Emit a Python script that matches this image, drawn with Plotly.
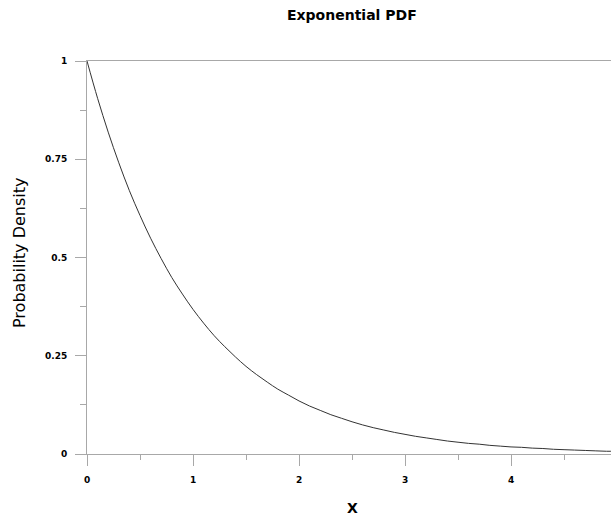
import plotly.graph_objects as go

# Curve values
x_vals = [0.0, 0.1, 0.2, 0.3, 0.4, 0.5, 0.6, 0.7, 0.8, 0.9, 1.0, 1.1, 1.2, 1.3, 1.4, 1.5, 1.6,
          1.7, 1.8, 1.9, 2.0, 2.1, 2.2, 2.3, 2.4, 2.5, 2.6, 2.7, 2.8, 2.9, 3.0, 3.1, 3.2, 3.3,
          3.4, 3.5, 3.6, 3.7, 3.8, 3.9, 4.0, 4.1, 4.2, 4.3, 4.4, 4.5, 4.6, 4.7, 4.8, 4.9, 5.0]
density = [1.000, 0.905, 0.819, 0.741, 0.670, 0.607, 0.549, 0.497, 0.449, 0.407, 0.368,
           0.333, 0.301, 0.273, 0.247, 0.223, 0.202, 0.183, 0.165, 0.150, 0.135, 0.122,
           0.111, 0.100, 0.091, 0.082, 0.074, 0.067, 0.061, 0.055, 0.050, 0.045, 0.041,
           0.037, 0.033, 0.030, 0.027, 0.025, 0.022, 0.020, 0.018, 0.017, 0.015, 0.014,
           0.012, 0.011, 0.010, 0.009, 0.008, 0.007, 0.007]

x_ticks = [0, 1, 2, 3, 4]
x_tick_text = ["0", "1", "2", "3", "4"]
y_ticks = [0, 0.25, 0.5, 0.75, 1]
y_tick_text = ["0", "0.25", "0.5", "0.75", "1"]

title_text = "Exponential PDF"
x_title = "X"
y_title = "Probability Density"

axis_color = "#a8a8a8"
FONT = "DejaVu Sans, sans-serif"
tick_font = dict(family=FONT, size=9, color="black", weight="bold")

W, H = 611, 517
L, R, T, B = 87, 0, 61, 63

fig = go.Figure()
fig.add_trace(go.Scatter(x=x_vals, y=density, mode="lines",
                         line=dict(color="#333333", width=1, shape="spline"),
                         showlegend=False, hoverinfo="skip"))

fig.update_layout(
    width=W, height=H,
    margin=dict(l=L, r=R, t=T, b=B, autoexpand=False),
    paper_bgcolor="white", plot_bgcolor="white",
    xaxis=dict(range=[0, 4.943], tickvals=x_ticks, ticktext=x_tick_text,
               showgrid=False, zeroline=False, showline=True, linecolor=axis_color,
               linewidth=1, mirror=True, ticks="outside", ticklen=11, tickcolor=axis_color,
               tickfont=tick_font, ticklabelstandoff=6,
               minor=dict(tickvals=[0.5, 1.5, 2.5, 3.5, 4.5], ticks="outside", ticklen=5,
                          tickcolor=axis_color)),
    yaxis=dict(range=[0, 1], tickvals=y_ticks, ticktext=y_tick_text,
               showgrid=False, zeroline=False, showline=True, linecolor=axis_color,
               linewidth=1, ticks="outside", ticklen=11, tickcolor=axis_color,
               tickfont=tick_font, ticklabelstandoff=6,
               minor=dict(tickvals=[0.125, 0.375, 0.625, 0.875], ticks="outside", ticklen=6,
                          tickcolor=axis_color)),
)

pw, ph = W - L - R, H - T - B


def px(xp):
    return (xp - L) / pw


def py(yp):
    return (H - B - yp) / ph


fig.add_annotation(text=title_text, x=px(352), y=py(15), xref="paper", yref="paper",
                   showarrow=False, xanchor="center", yanchor="middle",
                   font=dict(family=FONT, size=14, color="black", weight="bold"))
fig.add_annotation(text=x_title, x=px(352), y=py(508), xref="paper", yref="paper",
                   showarrow=False, xanchor="center", yanchor="middle",
                   font=dict(family=FONT, size=14, color="black", weight="bold"))
fig.add_annotation(text=y_title, x=px(19), y=py(253), xref="paper", yref="paper",
                   showarrow=False, xanchor="center", yanchor="middle", textangle=-90,
                   font=dict(family=FONT, size=16, color="black"))

fig.write_html("out.html", config={"displayModeBar": False},
               post_script="document.body.style.margin='0';")
